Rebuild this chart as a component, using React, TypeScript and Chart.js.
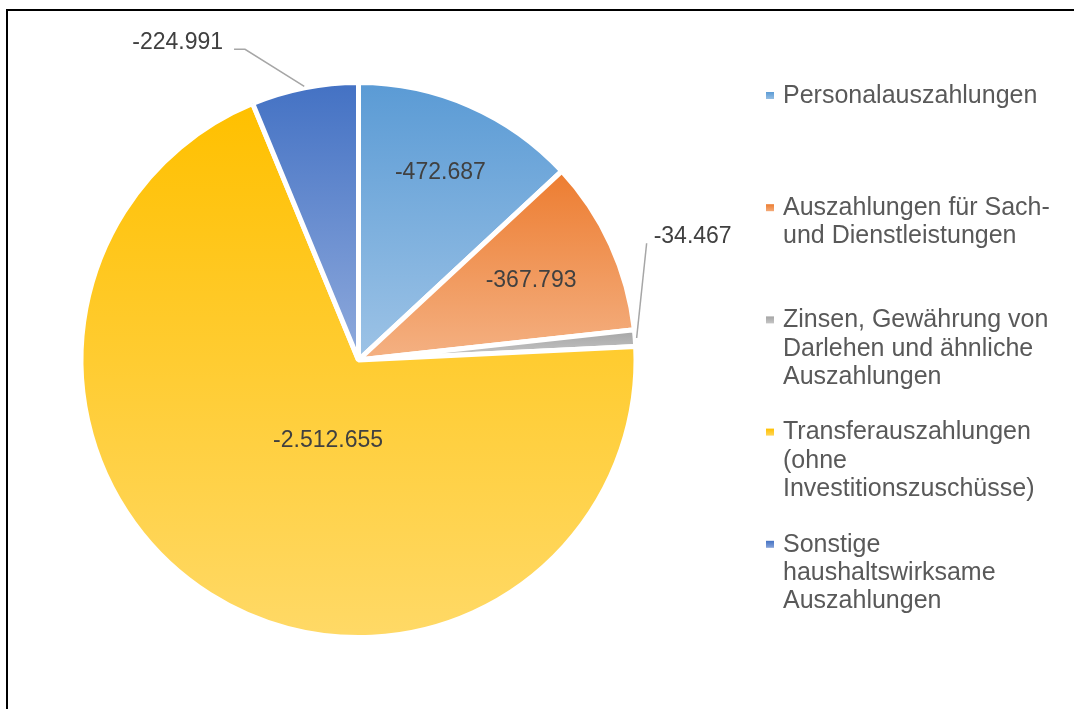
import React, { useEffect, useRef } from "react";
import { Chart, registerables } from "chart.js";
Chart.register(...registerables);

// ---- data ----
const categories: string[][] = [
  ["Personalauszahlungen"],
  ["Auszahlungen für Sach-", "und Dienstleistungen"],
  ["Zinsen, Gewährung von", "Darlehen und ähnliche", "Auszahlungen"],
  ["Transferauszahlungen", "(ohne", "Investitionszuschüsse)"],
  ["Sonstige", "haushaltswirksame", "Auszahlungen"],
];
const values = [-472687, -367793, -34467, -2512655, -224991];
const topColors = ["#5B9BD5", "#ED7D31", "#A5A5A5", "#FFC000", "#4472C4"];
const bottomColors = ["#9DC3E6", "#F4B183", "#C9C9C9", "#FFD966", "#8FAADC"];

// label placement (style only)
const labelPlacement = [
  { kind: "inside", radius: 0.745, shift: 0 },
  { kind: "inside", radius: 0.69, shift: 0 },
  { kind: "outside", elbow: [14, -95], side: "right" },
  { kind: "inside", radius: 0.315, shift: -11.8 },
  { kind: "outside", elbow: [-60, -41], side: "left" },
];

const PIE_R = 275;
const BORDER = 5;
const FONT = '"Liberation Sans", Arial, sans-serif';

function fmt(v: number) {
  const s = Math.abs(v).toString().replace(/\B(?=(\d{3})+(?!\d))/g, ".");
  return (v < 0 ? "-" : "") + s;
}

function sliceAngles(i: number) {
  const total = values.reduce((a, b) => a + Math.abs(b), 0);
  let start = -Math.PI / 2;
  for (let k = 0; k < i; k++) start += (Math.abs(values[k]) / total) * Math.PI * 2;
  const end = start + (Math.abs(values[i]) / total) * Math.PI * 2;
  return [start, end];
}

function sliceGradient(c: any) {
  const i = c.dataIndex ?? 0;
  const chart = c.chart;
  const area = chart.chartArea;
  if (!area) return topColors[i];
  const cx = (area.left + area.right) / 2;
  const cy = (area.top + area.bottom) / 2;
  const [s, e] = sliceAngles(i);
  const ys = [cy, cy + PIE_R * Math.sin(s), cy + PIE_R * Math.sin(e)];
  for (const a of [-Math.PI / 2, Math.PI / 2, (3 * Math.PI) / 2]) {
    if (a >= s && a <= e) ys.push(cy + PIE_R * Math.sin(a));
  }
  const minY = Math.min(...ys);
  const maxY = Math.max(...ys);
  const g = chart.ctx.createLinearGradient(0, minY, 0, maxY);
  g.addColorStop(0, topColors[i]);
  g.addColorStop(1, bottomColors[i]);
  return g;
}

const framePlugin = {
  id: "frame",
  beforeDraw(chart: any) {
    const ctx = chart.ctx;
    ctx.save();
    ctx.fillStyle = "#000";
    ctx.fillRect(6, 9, 2, 710);
    ctx.fillRect(6, 9, 1080, 2);
    ctx.restore();
  },
};

const labelPlugin = {
  id: "sliceLabels",
  afterDatasetsDraw(chart: any) {
    const ctx = chart.ctx;
    const meta = chart.getDatasetMeta(0);
    ctx.save();
    ctx.font = `23px ${FONT}`;
    ctx.fillStyle = "#404040";
    ctx.textBaseline = "middle";
    meta.data.forEach((arc: any, i: number) => {
      const p = arc.getProps(["x", "y", "startAngle", "endAngle"], true);
      const mid = (p.startAngle + p.endAngle) / 2;
      const pl: any = labelPlacement[i];
      const text = fmt(values[i]);
      if (pl.kind === "inside") {
        const a = mid + (pl.shift * Math.PI) / 180;
        const r = PIE_R * pl.radius;
        ctx.textAlign = "center";
        ctx.fillText(text, p.x + r * Math.cos(a), p.y + r * Math.sin(a));
      } else {
        const ex = p.x + PIE_R * Math.cos(mid);
        const ey = p.y + PIE_R * Math.sin(mid);
        const sx = p.x + (PIE_R + 4) * Math.cos(mid);
        const sy = p.y + (PIE_R + 4) * Math.sin(mid);
        const bx = ex + pl.elbow[0];
        const by = ey + pl.elbow[1];
        ctx.strokeStyle = "#A6A6A6";
        ctx.lineWidth = 1.5;
        ctx.beginPath();
        ctx.moveTo(sx, sy);
        ctx.lineTo(bx, by);
        if (pl.side === "left") {
          ctx.lineTo(bx - 11, by);
          ctx.stroke();
          ctx.textAlign = "right";
          ctx.fillText(text, bx - 22, by - 7);
        } else {
          ctx.stroke();
          ctx.textAlign = "left";
          ctx.fillText(text, bx + 7, by - 7);
        }
      }
    });
    ctx.restore();
  },
};

const legendPlugin = {
  id: "sideLegend",
  afterDraw(chart: any) {
    const ctx = chart.ctx;
    ctx.save();
    ctx.font = `25px ${FONT}`;
    ctx.fillStyle = "#595959";
    ctx.textBaseline = "middle";
    ctx.textAlign = "left";
    categories.forEach((lines, i) => {
      const y0 = 96 + i * 112.2;
      const g = ctx.createLinearGradient(0, y0 - 4, 0, y0 + 4);
      g.addColorStop(0, topColors[i]);
      g.addColorStop(1, bottomColors[i]);
      ctx.fillStyle = g;
      ctx.fillRect(766, y0 - 4, 8, 7);
      ctx.fillStyle = "#595959";
      lines.forEach((ln, k) => {
        ctx.fillText(ln, 783, y0 + k * 28.4);
      });
    });
    ctx.restore();
  },
};

export default function App() {
  const ref = useRef<HTMLCanvasElement | null>(null);
  useEffect(() => {
    if (!ref.current) return;
    const chart = new Chart(ref.current, {
      type: "pie",
      data: {
        labels: categories,
        datasets: [
          {
            data: values,
            backgroundColor: sliceGradient as any,
            borderColor: "#FFFFFF",
            borderWidth: BORDER,
          },
        ],
      },
      options: {
        animation: false,
        responsive: false,
        devicePixelRatio: 1,
        events: [],
        radius: PIE_R + BORDER / 2,
        layout: { padding: { left: 0, right: 357, top: 11, bottom: 0 } },
        plugins: {
          legend: { display: false },
          tooltip: { enabled: false },
        },
      } as any,
      plugins: [framePlugin, labelPlugin, legendPlugin],
    });
    return () => chart.destroy();
  }, []);
  return (
    <div style={{ position: "absolute", left: 0, top: 0, width: 1074, height: 709, background: "#fff" }}>
      <canvas ref={ref} width={1074} height={709} />
    </div>
  );
}
